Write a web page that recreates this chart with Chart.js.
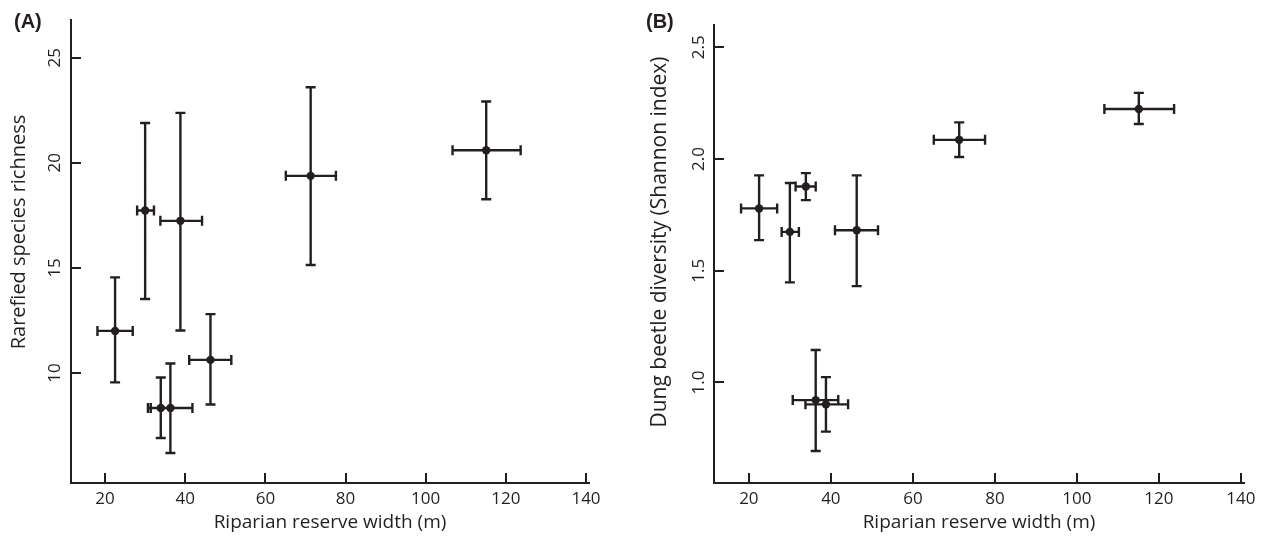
<!DOCTYPE html>
<html>
<head>
<meta charset="utf-8">
<script src="https://cdn.jsdelivr.net/npm/chart.js@4"></script>
<style>
  body { margin: 0; background: #fff; }
  #wrap { position: relative; width: 1271px; height: 544px; }
  canvas { position: absolute; top: 0; }
</style>
</head>
<body>
<div id="wrap">
  <canvas id="chartA" width="635" height="544" style="left:0"></canvas>
  <canvas id="chartB" width="635" height="544" style="left:636px"></canvas>
</div>
<script>
/* data: one entry per site, same order in every array */
const reserveWidth = [22.5, 30.0, 33.9, 36.3, 38.8, 46.3, 71.3, 115.1];
const widthLow = [18.1, 28.0, 31.4, 30.7, 33.8, 41.0, 65.1, 106.7];
const widthHigh = [26.9, 32.2, 36.3, 41.8, 44.2, 51.5, 77.6, 123.7];

const richness = [12.0, 17.73, 8.33, 8.33, 17.24, 10.62, 19.38, 20.6];
const richnessLow = [9.55, 13.52, 6.9, 6.19, 12.02, 8.5, 15.14, 18.27];
const richnessHigh = [14.55, 21.9, 9.78, 10.45, 22.38, 12.8, 23.6, 22.92];

const shannon = [1.779, 1.674, 1.877, 0.921, 0.902, 1.681, 2.086, 2.224];
const shannonLow = [1.637, 1.448, 1.816, 0.693, 0.78, 1.431, 2.009, 2.157];
const shannonHigh = [1.927, 1.893, 1.937, 1.145, 1.024, 1.927, 2.164, 2.296];

const xTicks = [20, 40, 60, 80, 100, 120, 140];
const richTicks = [10, 15, 20, 25];
const shannonTicks = [1.0, 1.5, 2.0, 2.5];

const xTitle = "Riparian reserve width (m)";

const ink = "#231f20";
const font = "'Open Sans', 'Noto Sans', sans-serif";

function buildPoints(vals, lows, highs) {
  return reserveWidth.map((w, i) => ({
    x: w,
    y: vals[i],
    xMin: widthLow[i],
    xMax: widthHigh[i],
    yMin: lows[i],
    yMax: highs[i],
  }));
}

/* error bars with caps, drawn under the points */
const errorBars = {
  id: "errorBars",
  beforeDatasetsDraw(chart) {
    const { ctx } = chart;
    const x = chart.scales.x;
    const y = chart.scales.y;
    const cap = 5;
    ctx.save();
    ctx.strokeStyle = ink;
    ctx.lineWidth = 2.4;
    ctx.beginPath();
    chart.data.datasets[0].data.forEach((p) => {
      const px = x.getPixelForValue(p.x);
      const py = y.getPixelForValue(p.y);
      const xl = x.getPixelForValue(p.xMin);
      const xr = x.getPixelForValue(p.xMax);
      const yt = y.getPixelForValue(p.yMax);
      const yb = y.getPixelForValue(p.yMin);
      ctx.moveTo(xl, py);
      ctx.lineTo(xr, py);
      ctx.moveTo(xl, py - cap);
      ctx.lineTo(xl, py + cap);
      ctx.moveTo(xr, py - cap);
      ctx.lineTo(xr, py + cap);
      ctx.moveTo(px, yt);
      ctx.lineTo(px, yb);
      ctx.moveTo(px - cap, yt);
      ctx.lineTo(px + cap, yt);
      ctx.moveTo(px - cap, yb);
      ctx.lineTo(px + cap, yb);
    });
    ctx.stroke();
    ctx.restore();
  },
};

/* tick marks pointing into the plot */
const innerTicks = {
  id: "innerTicks",
  afterDraw(chart) {
    const { ctx, chartArea } = chart;
    const x = chart.scales.x;
    const y = chart.scales.y;
    ctx.save();
    ctx.strokeStyle = ink;
    ctx.lineWidth = 2;
    ctx.beginPath();
    x.ticks.forEach((t) => {
      const px = Math.round(x.getPixelForValue(t.value));
      ctx.moveTo(px, chartArea.bottom);
      ctx.lineTo(px, chartArea.bottom - 10);
    });
    y.ticks.forEach((t) => {
      const py = Math.round(y.getPixelForValue(t.value));
      ctx.moveTo(chartArea.left, py);
      ctx.lineTo(chartArea.left + 10, py);
    });
    ctx.stroke();
    ctx.restore();
  },
};

/* panel letter and the rotated y title (not centred on the axis in the original) */
const panelText = {
  id: "panelText",
  afterDraw(chart, args, opts) {
    const { ctx } = chart;
    ctx.save();
    ctx.fillStyle = ink;
    ctx.font = "bold 20px 'Liberation Sans', Arial, sans-serif";
    ctx.textBaseline = "alphabetic";
    ctx.fillText(opts.label, opts.labelX, opts.labelY);
    ctx.font = opts.titleSize + "px " + font;
    ctx.textAlign = "center";
    ctx.translate(opts.titleX, opts.titleY);
    ctx.rotate(-Math.PI / 2);
    ctx.fillText(opts.title, 0, 0);
    ctx.restore();
  },
};

function makeChart(id, cfg) {
  return new Chart(document.getElementById(id), {
    type: "scatter",
    data: {
      datasets: [
        {
          data: cfg.points,
          pointRadius: 4.2,
          pointHoverRadius: 4.2,
          pointBackgroundColor: ink,
          pointBorderWidth: 0,
        },
      ],
    },
    options: {
      responsive: false,
      animation: false,
      layout: { padding: { top: cfg.top, right: cfg.right, left: 0, bottom: 0 } },
      plugins: {
        legend: { display: false },
        tooltip: { enabled: false },
        panelText: cfg.text,
      },
      scales: {
        x: {
          type: "linear",
          min: 11.5,
          max: 140.75,
          afterFit: (s) => { s.height = 61; },
          afterBuildTicks: (s) => { s.ticks = xTicks.map((v) => ({ value: v })); },
          grid: { display: false, drawTicks: false },
          border: { color: ink, width: 2 },
          ticks: {
            autoSkip: false,
            maxRotation: 0,
            padding: 6,
            color: ink,
            font: { family: font, size: 17 },
          },
          title: {
            display: true,
            text: xTitle,
            color: ink,
            padding: { top: 0, bottom: 10 },
            font: { family: font, size: 19 },
          },
        },
        y: {
          min: cfg.yMin,
          max: cfg.yMax,
          afterFit: (s) => { s.width = cfg.yWidth; },
          afterBuildTicks: (s) => { s.ticks = cfg.yTicks.map((v) => ({ value: v })); },
          grid: { display: false, drawTicks: false },
          border: { color: ink, width: 2 },
          ticks: {
            autoSkip: false,
            minRotation: 90,
            maxRotation: 90,
            crossAlign: "center",
            padding: cfg.tickPad,
            color: ink,
            font: { family: font, size: 17 },
            callback: cfg.fmt,
          },
          title: { display: false },
        },
      },
    },
    plugins: [errorBars, innerTicks, panelText],
  });
}

makeChart("chartA", {
  points: buildPoints(richness, richnessLow, richnessHigh),
  yMin: 4.76,
  yMax: 26.8,
  yTicks: richTicks,
  fmt: (v) => String(v),
  yWidth: 71,
  top: 20,
  right: 46,
  tickPad: 6,
  text: {
    label: "(A)", labelX: 14, labelY: 28,
    title: "Rarefied species richness", titleX: 25, titleY: 232, titleSize: 20,
  },
});

makeChart("chartB", {
  points: buildPoints(shannon, shannonLow, shannonHigh),
  yMin: 0.55,
  yMax: 2.6,
  yTicks: shannonTicks,
  fmt: (v) => v.toFixed(1),
  yWidth: 78,
  top: 25,
  right: 27,
  tickPad: 3,
  text: {
    label: "(B)", labelX: 10, labelY: 28,
    title: "Dung beetle diversity (Shannon index)", titleX: 30, titleY: 242, titleSize: 21,
  },
});
</script>
</body>
</html>
